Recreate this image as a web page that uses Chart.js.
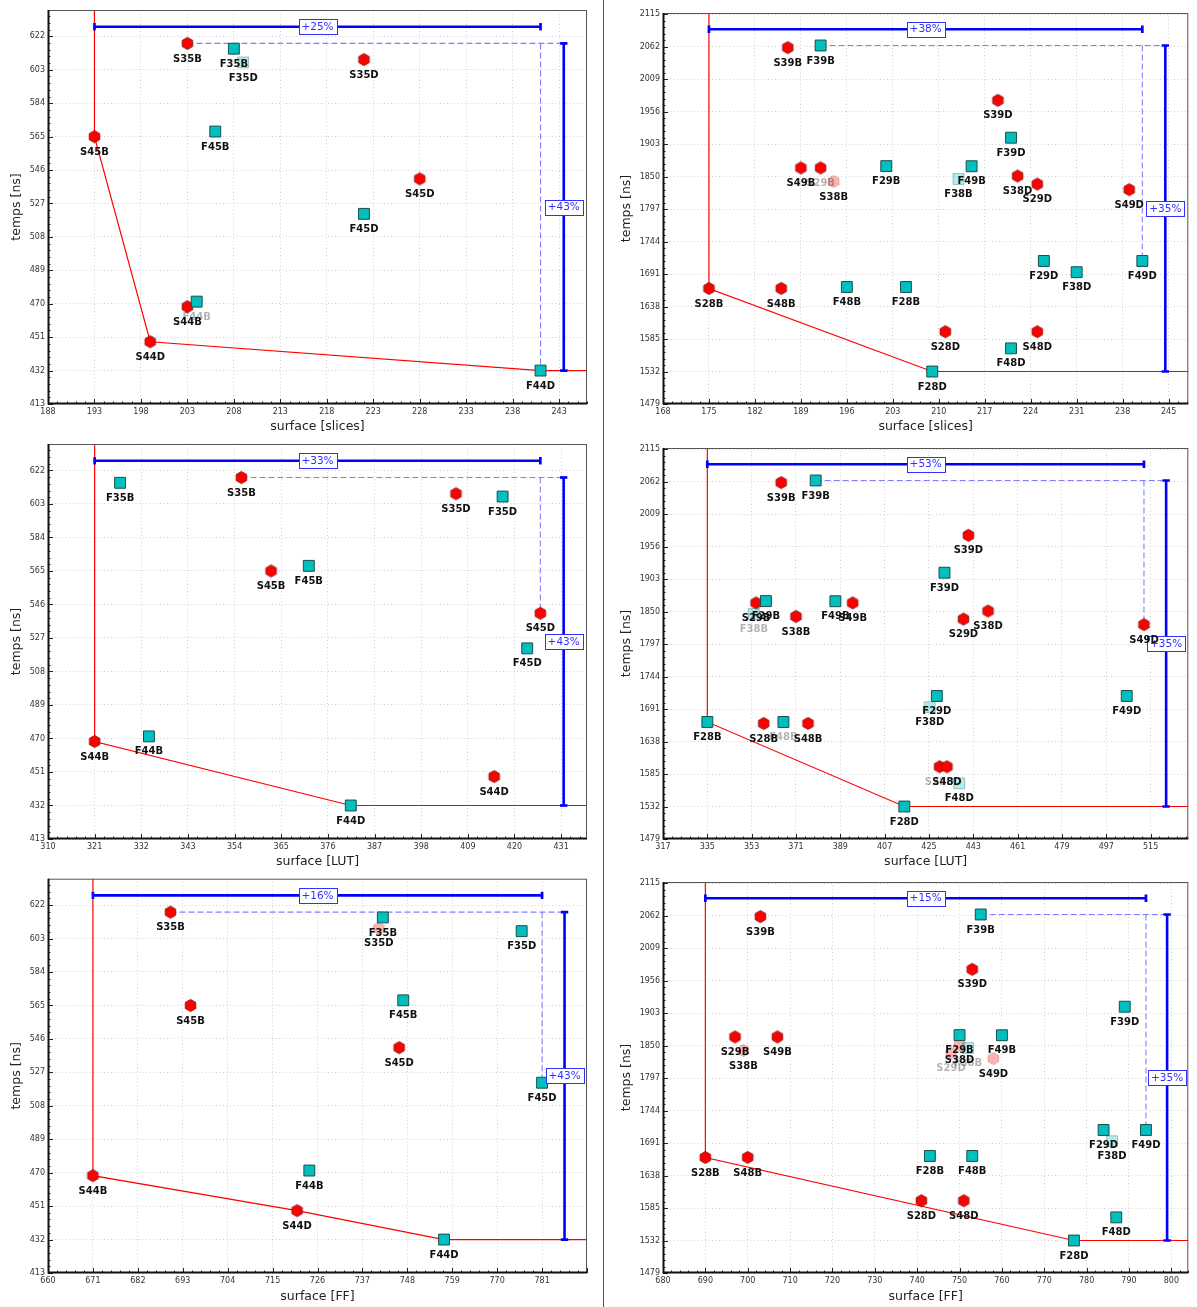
<!DOCTYPE html>
<html>
<head>
<meta charset="utf-8">
<script src="https://cdn.jsdelivr.net/npm/chart.js@4.4.1/dist/chart.umd.min.js"></script>
<style>
  html, body { margin: 0; padding: 0; background: #fff; }
  #wrap { position: relative; width: 1197px; height: 1307px; overflow: hidden; }
  #wrap canvas { position: absolute; }
  #sep { position: absolute; left: 603px; top: 0; width: 1px; height: 1307px; background: #555; }
</style>
</head>
<body>
<div id="wrap">
  <canvas id="c1" width="600" height="435" style="left:0;top:0"></canvas>
  <canvas id="c2" width="592" height="435" style="left:605px;top:0"></canvas>
  <canvas id="c3" width="600" height="435" style="left:0;top:435px"></canvas>
  <canvas id="c4" width="592" height="435" style="left:605px;top:435px"></canvas>
  <canvas id="c5" width="600" height="437" style="left:0;top:870px"></canvas>
  <canvas id="c6" width="592" height="437" style="left:605px;top:870px"></canvas>
  <div id="sep"></div>
</div>
<script>
// ----- DATA -----
// left column designs (same timings in every left panel)
const namesA = ['S35B', 'S35D', 'S45B', 'S45D', 'S44B', 'S44D', 'F35B', 'F35D', 'F45B', 'F45D', 'F44B', 'F44D'];
const tempsA = [618.4, 609.2, 565.4, 541.4, 468.7, 448.8, 615.4, 607.6, 568.3, 521.5, 471.6, 432.4];
const slicesA = [203, 222, 193, 228, 203, 199, 208, 209, 206, 222, 204, 241];
const lutA = [355.6, 406.2, 362.6, 426.1, 321, 415.2, 327, 417.2, 371.5, 423, 333.8, 381.4];
const ffA = [690, 741, 694.9, 746, 671, 721, 742, 776, 747, 781, 724, 757];

// right column designs
const namesB = ['S28B', 'S28D', 'S29B', 'S29D', 'S38B', 'S38D', 'S39B', 'S39D', 'S48B', 'S48D', 'S49B', 'S49D',
                'F28B', 'F28D', 'F29B', 'F29D', 'F38B', 'F38D', 'F39B', 'F39D', 'F48B', 'F48D', 'F49B', 'F49D'];
const tempsB = [1667.9, 1597.4, 1864.7, 1838.3, 1842.6, 1851.4, 2061, 1975, 1668, 1597.4, 1864.7, 1829.2,
                1670.4, 1532.4, 1867.6, 1712.8, 1846.5, 1694.5, 2064.5, 1914, 1670.4, 1570.2, 1867.4, 1712.8];
const slicesB = [175, 211, 192, 225, 194, 222, 187, 219, 186, 225, 189, 239,
                 205, 209, 202, 226, 213, 231, 192, 221, 196, 221, 215, 241];
const lutB = [357.9, 429.3, 354.8, 439, 371, 449, 365, 441, 375.9, 432.3, 394, 512.3,
              335, 415, 358.8, 428.2, 353.9, 425.3, 379, 431.3, 365.9, 437.3, 387, 505.3];
const ffB = [690, 741, 697, 748, 699, 750, 703, 753, 700, 751, 707, 758,
             743, 777, 750, 784, 752, 786, 755, 789, 753, 787, 760, 794];

// pareto front of each panel
const frontSlicesA = ['S45B', 'S44D', 'F44D'];
const frontSlicesB = ['S28B', 'F28D'];
const frontLutA = ['S44B', 'F44D'];
const frontLutB = ['F28B', 'F28D'];
const frontFfA = ['S44B', 'S44D', 'F44D'];
const frontFfB = ['S28B', 'F28D'];

// ----- PANELS -----
const panels = [
  { id: 'c1', grp: 'A', xs: slicesA, xTitle: 'surface [slices]', front: frontSlicesA,
    fadeMark: ['F35D'], fadeText: ['F44B'], yW: 48, pt: 10, pr: 13, xH: 31, yTP: 9.2, xTP: 0.8 },
  { id: 'c2', grp: 'B', xs: slicesB, xTitle: 'surface [slices]', front: frontSlicesB,
    fadeMark: ['S38B', 'F38B'], fadeText: ['S29B'], yW: 58, pt: 13, pr: 0, xH: 31, yTP: 14.2, xTP: 0.8 },
  { id: 'c3', grp: 'A', xs: lutA, xTitle: 'surface [LUT]', front: frontLutA,
    fadeMark: [], fadeText: [], yW: 48, pt: 9, pr: 13, xH: 31, yTP: 9.2, xTP: 0.8 },
  { id: 'c4', grp: 'B', xs: lutB, xTitle: 'surface [LUT]', front: frontLutB,
    fadeMark: ['F38B', 'F38D', 'F48D'], fadeText: ['F38B', 'F48B', 'S28D'], yW: 58, pt: 13, pr: 0, xH: 31, yTP: 14.2, xTP: 0.8 },
  { id: 'c5', grp: 'A', xs: ffA, xTitle: 'surface [FF]', front: frontFfA,
    fadeMark: ['S35D'], fadeText: [], yW: 48, pt: 8, pr: 13, xH: 34, yTP: 9.2, xTP: 2.8 },
  { id: 'c6', grp: 'B', xs: ffB, xTitle: 'surface [FF]', front: frontFfB,
    fadeMark: ['S38B', 'S38D', 'F38B', 'S29D', 'S49D', 'F38D'], fadeText: ['S29D', 'F38B'], yW: 58, pt: 12, pr: 0, xH: 34, yTP: 14.2, xTP: 2.8 }
];

Chart.defaults.font.family = '"DejaVu Sans", sans-serif';

function hexImg(fill, stroke) {
  const c = document.createElement('canvas');
  c.width = 15; c.height = 15;
  const g = c.getContext('2d');
  g.beginPath();
  for (let k = 0; k < 6; k++) {
    const a = Math.PI / 2 + k * Math.PI / 3;
    const px = 7.5 + 6.1 * Math.cos(a), py = 7.5 + 6.1 * Math.sin(a);
    if (k) g.lineTo(px, py); else g.moveTo(px, py);
  }
  g.closePath();
  g.fillStyle = fill; g.fill();
  g.lineWidth = 0.8; g.strokeStyle = stroke; g.stroke();
  return c;
}
const hexRed = hexImg('#ff0000', '#7a1010');
const hexFade = hexImg('rgba(255,0,0,0.3)', 'rgba(120,20,20,0.3)');

function mkTicks(a) {
  const t = [];
  for (let v = a.min; v < a.max - 1e-6; v += a.step) t.push({ value: v });
  return t;
}
const pct = (a, b) => '+' + Math.round((b - a) / a * 100) + '%';

// ----- PLUGINS -----
const gridFrame = {
  id: 'gridFrame',
  afterDraw(chart) {
    const { ctx, chartArea: a, scales: { x, y } } = chart;
    ctx.save();
    ctx.strokeStyle = '#222';
    ctx.lineWidth = 1;
    const xs = x.ticks.map(t => t.value), ys = y.ticks.map(t => t.value);
    const sx = xs[1] - xs[0], sy = ys[1] - ys[0];
    ctx.beginPath();
    for (let v = xs[0], k = 0; v <= x.max + 1e-6; v = xs[0] + (++k) * sx / 5) {
      const px = Math.round(x.getPixelForValue(v)) + 0.5;
      const len = k % 5 === 0 ? 5 : 2.5;
      ctx.moveTo(px, a.bottom); ctx.lineTo(px, a.bottom - len);
    }
    for (let v = ys[0], k = 0; v <= y.max + 1e-6; v = ys[0] + (++k) * sy / 5) {
      const py = Math.round(y.getPixelForValue(v)) + 0.5;
      const len = k % 5 === 0 ? 5 : 2.5;
      ctx.moveTo(a.left, py); ctx.lineTo(a.left + len, py);
    }
    ctx.stroke();
    ctx.strokeStyle = '#555';
    ctx.strokeRect(a.left + 0.5, a.top + 0.5, a.right - a.left - 1, a.bottom - a.top - 1);
    ctx.strokeStyle = '#111';
    ctx.lineWidth = 2;
    ctx.beginPath();
    ctx.moveTo(a.left + 0.5, a.top);
    ctx.lineTo(a.left + 0.5, a.bottom - 0.5);
    ctx.lineTo(a.right, a.bottom - 0.5);
    ctx.stroke();
    ctx.restore();
  }
};

const marks = {
  id: 'marks',
  afterDatasetsDraw(chart, args, o) {
    const { ctx, scales: { x, y } } = chart;
    ctx.save();
    // bracket boxes
    ctx.font = '10.5px "DejaVu Sans"';
    ctx.textAlign = 'center';
    ctx.textBaseline = 'middle';
    o.boxes.forEach(b => {
      const px = x.getPixelForValue(b.x), py = y.getPixelForValue(b.y);
      const w = Math.round(ctx.measureText(b.text).width + 6), h = 15;
      const l = Math.round(px - w / 2) + 0.5, t = Math.round(py - h / 2) + 0.5;
      ctx.fillStyle = '#fff';
      ctx.fillRect(l, t, w, h);
      ctx.strokeStyle = '#3030ff';
      ctx.lineWidth = 1;
      ctx.strokeRect(l, t, w, h);
      ctx.fillStyle = '#3030ff';
      ctx.fillText(b.text, px, py + 0.5);
    });
    // point labels
    ctx.font = 'bold 10px "DejaVu Sans"';
    [0, 1].forEach(di => {
      const ds = chart.data.datasets[di];
      chart.getDatasetMeta(di).data.forEach((el, i) => {
        const n = ds.data[i].name;
        ctx.fillStyle = o.fadeText.includes(n) ? 'rgba(0,0,0,0.3)' : '#111';
        ctx.fillText(n, el.x, el.y + 15.5);
      });
    });
    ctx.restore();
  }
};

// ----- CHARTS INIT -----
panels.forEach(p => {
  const ys = p.grp === 'A' ? tempsA : tempsB;
  const names = p.grp === 'A' ? namesA : namesB;
  const pts = names.map((n, i) => ({ x: p.xs[i], y: ys[i], name: n }));
  const xMin = Math.min(...p.xs), xMax = Math.max(...p.xs);
  const yMin = Math.min(...ys), yMax = Math.max(...ys);
  const ax = { step: Math.round((xMax - xMin) / 10) };
  ax.min = xMin - ax.step; ax.max = xMax + ax.step;
  const ay = { step: Math.round((yMax - yMin) / 10) };
  ay.min = yMin - ay.step; ay.max = yMax + ay.step;

  const topPt = pts.find(d => d.y === yMax);
  const rightPt = pts.find(d => d.x === xMax);
  const bx = xMax + ax.step / 2, by = yMax + ay.step / 2;
  const front = p.front.map(n => pts.find(d => d.name === n));
  const frontLine = [{ x: front[0].x, y: ay.max }, ...front, { x: ax.max, y: front[front.length - 1].y }];

  const fadeM = c => c.raw && p.fadeMark.includes(c.raw.name);

  new Chart(document.getElementById(p.id), {
    type: 'scatter',
    data: {
      datasets: [
        { data: pts.filter(d => d.name[0] === 'S'), order: 1, pointRadius: 6,
          pointStyle: c => fadeM(c) ? hexFade : hexRed },
        { data: pts.filter(d => d.name[0] === 'F'), order: 0, pointRadius: 7.7, pointStyle: 'rect',
          pointBackgroundColor: c => fadeM(c) ? 'rgba(0,191,191,0.3)' : '#00bfbf',
          pointBorderColor: c => fadeM(c) ? 'rgba(20,70,70,0.3)' : '#1d4d4d', pointBorderWidth: 1 },
        { data: frontLine, showLine: true, borderColor: '#ff0000', borderWidth: 1.2, pointRadius: 0, order: 5 },
        { data: [{ x: topPt.x, y: yMax }, { x: bx, y: yMax }], showLine: true, borderColor: '#8080ff',
          borderWidth: 1.1, borderDash: [6, 3], pointRadius: 0, order: 6 },
        { data: [{ x: xMax, y: yMax }, { x: xMax, y: rightPt.y }], showLine: true, borderColor: '#8080ff',
          borderWidth: 1.1, borderDash: [6, 3], pointRadius: 0, order: 6 },
        { data: [{ x: xMin, y: by }, { x: xMax, y: by }], showLine: true, borderColor: '#0000ff', borderWidth: 2.6,
          pointStyle: 'line', pointRotation: 90, pointRadius: 3.7, pointBorderWidth: 2.7,
          pointBorderColor: '#0000ff', order: 2 },
        { data: [{ x: bx, y: yMin }, { x: bx, y: yMax }], showLine: true, borderColor: '#0000ff', borderWidth: 2.6,
          pointStyle: 'line', pointRotation: 0, pointRadius: 3.7, pointBorderWidth: 2.7,
          pointBorderColor: '#0000ff', order: 2 }
      ]
    },
    options: {
      responsive: false,
      animation: false,
      layout: { padding: { top: p.pt, right: p.pr, left: 0, bottom: 0 } },
      plugins: {
        legend: { display: false },
        tooltip: { enabled: false },
        marks: {
          fadeText: p.fadeText,
          boxes: [
            { x: (xMin + xMax) / 2, y: by, text: pct(xMin, xMax) },
            { x: bx, y: (yMin + yMax) / 2, text: pct(yMin, yMax) }
          ]
        }
      },
      scales: {
        x: {
          type: 'linear', min: ax.min, max: ax.max,
          afterBuildTicks: s => { s.ticks = mkTicks(ax); },
          afterFit: s => { s.height = p.xH; },
          ticks: { callback: v => String(Math.round(v)), font: { size: 8 }, color: '#333', padding: 3, autoSkip: false, maxRotation: 0 },
          grid: { color: '#c4c4c4', lineWidth: 0.8, drawTicks: false },
          border: { display: false, dash: [1, 2.5] },
          title: { display: true, text: p.xTitle, font: { size: 12.5 }, color: '#222', padding: { top: 0, bottom: p.xTP } }
        },
        y: {
          type: 'linear', min: ay.min, max: ay.max,
          afterBuildTicks: s => { s.ticks = mkTicks(ay); },
          afterFit: s => { s.width = p.yW; },
          ticks: { callback: v => String(Math.round(v)), font: { size: 8 }, color: '#333', padding: 3, autoSkip: false },
          grid: { color: '#c4c4c4', lineWidth: 0.8, drawTicks: false },
          border: { display: false, dash: [1, 2.5] },
          title: { display: true, text: 'temps [ns]', font: { size: 12.5 }, color: '#222', padding: { top: p.yTP, bottom: 0 } }
        }
      }
    },
    plugins: [gridFrame, marks]
  });
});
</script>
</body>
</html>
